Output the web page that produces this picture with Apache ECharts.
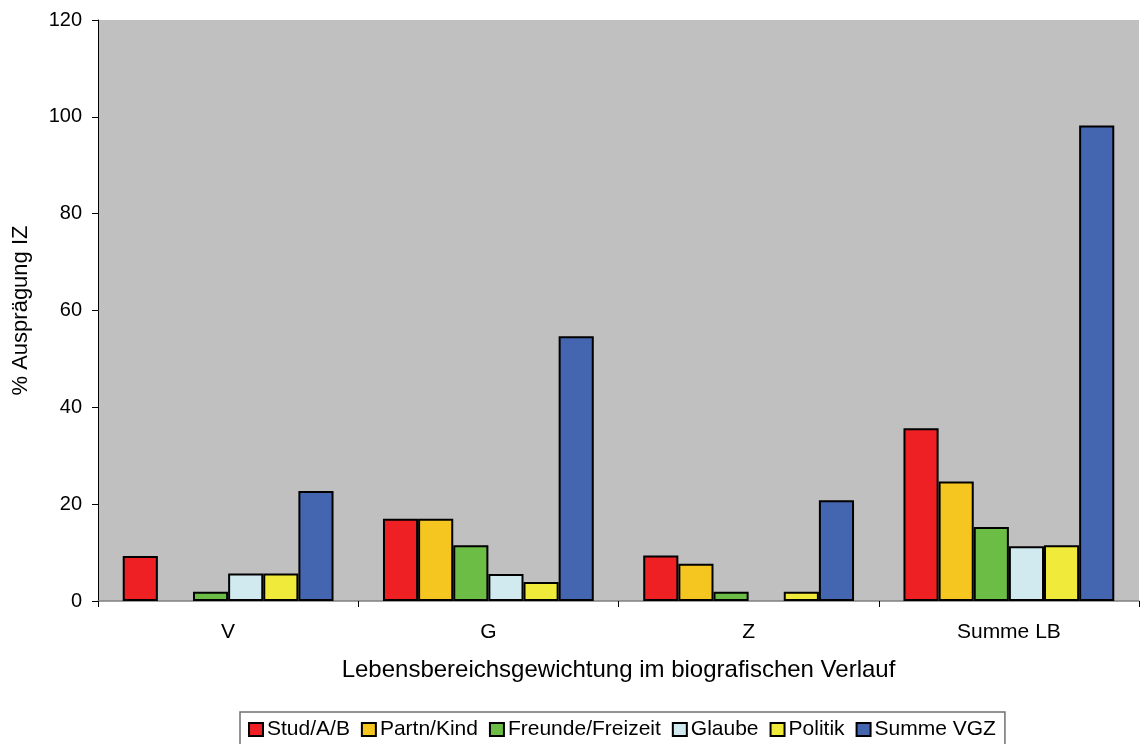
<!DOCTYPE html>
<html>
<head>
<meta charset="utf-8">
<script src="https://cdn.jsdelivr.net/npm/echarts@6/dist/echarts.min.js"></script>
<style>
  html, body { margin: 0; padding: 0; background: #ffffff; }
  #chart { width: 1140px; height: 744px; }
</style>
</head>
<body>
<div id="chart"></div>
<script>
// Life domains weighted across the biographical course
const categories = ['V', 'G', 'Z', 'Summe LB'];
const yTicks = [0, 20, 40, 60, 80, 100, 120];

const studAB          = [9.3, 17.0, 9.4, 35.7];
const partnKind       = [0, 17.0, 7.7, 24.7];
const freundeFreizeit = [1.9, 11.5, 1.9, 15.3];
const glaube          = [5.7, 5.6, 0, 11.3];
const politik         = [5.7, 3.9, 1.9, 11.5];
const summeVGZ        = [22.7, 54.7, 20.8, 98.2];

const seriesDefs = [
  { name: 'Stud/A/B', data: studAB, color: '#ee2024' },
  { name: 'Partn/Kind', data: partnKind, color: '#f6c620' },
  { name: 'Freunde/Freizeit', data: freundeFreizeit, color: '#6cbd45' },
  { name: 'Glaube', data: glaube, color: '#d0eaf0' },
  { name: 'Politik', data: politik, color: '#f0ea3a' },
  { name: 'Summe VGZ', data: summeVGZ, color: '#4466b0' }
];

const FONT = '"Liberation Sans", Arial, sans-serif';

const chart = echarts.init(document.getElementById('chart'), null, { renderer: 'canvas' });

chart.setOption({
  animation: false,
  backgroundColor: '#ffffff',
  textStyle: { fontFamily: FONT, color: '#000' },
  grid: {
    left: 98, right: 1, top: 20, bottom: 143,
    show: true, backgroundColor: '#c0c0c0', borderWidth: 0
  },
  legend: {
    top: 712,
    left: 240,
    itemWidth: 14,
    itemHeight: 13,
    itemGap: 11,
    padding: [7, 9, 10, 8],
    borderColor: '#707070',
    borderWidth: 1.5,
    icon: 'rect',
    textStyle: { fontFamily: FONT, fontSize: 21, color: '#000', padding: [0, 0, 0, -1] },
    itemStyle: { borderColor: '#000', borderWidth: 2 },
    data: seriesDefs.map(s => s.name)
  },
  xAxis: {
    type: 'category',
    data: categories,
    name: 'Lebensbereichsgewichtung im biografischen Verlauf',
    nameLocation: 'middle',
    nameGap: 57,
    nameTextStyle: { fontFamily: FONT, fontSize: 24, color: '#000' },
    axisLine: { lineStyle: { color: '#808080', width: 1.5 } },
    axisTick: { show: true, alignWithLabel: false, length: 6, lineStyle: { color: '#000' } },
    axisLabel: { fontFamily: FONT, fontSize: 21, color: '#000', margin: 21 },
    splitLine: { show: false }
  },
  yAxis: {
    type: 'value',
    min: 0, max: 120, interval: 20,
    name: '% Ausprägung IZ',
    nameLocation: 'middle',
    nameGap: 66,
    nameRotate: 90,
    nameTextStyle: { fontFamily: FONT, fontSize: 22, color: '#000' },
    axisLine: { show: true, lineStyle: { color: '#000', width: 1 } },
    axisTick: { show: true, length: 6, lineStyle: { color: '#000' } },
    axisLabel: {
      fontFamily: FONT, fontSize: 20, color: '#000', margin: 16,
      formatter: v => (yTicks.includes(v) ? String(v) : '')
    },
    splitLine: { show: false }
  },
  series: seriesDefs.map(s => ({
    name: s.name,
    type: 'bar',
    barGap: '0%',
    barCategoryGap: '19%',
    data: s.data.map(v => (v === 0 ? '-' : v)),
    itemStyle: { color: s.color, borderColor: '#000', borderWidth: 2 }
  }))
});
</script>
</body>
</html>
